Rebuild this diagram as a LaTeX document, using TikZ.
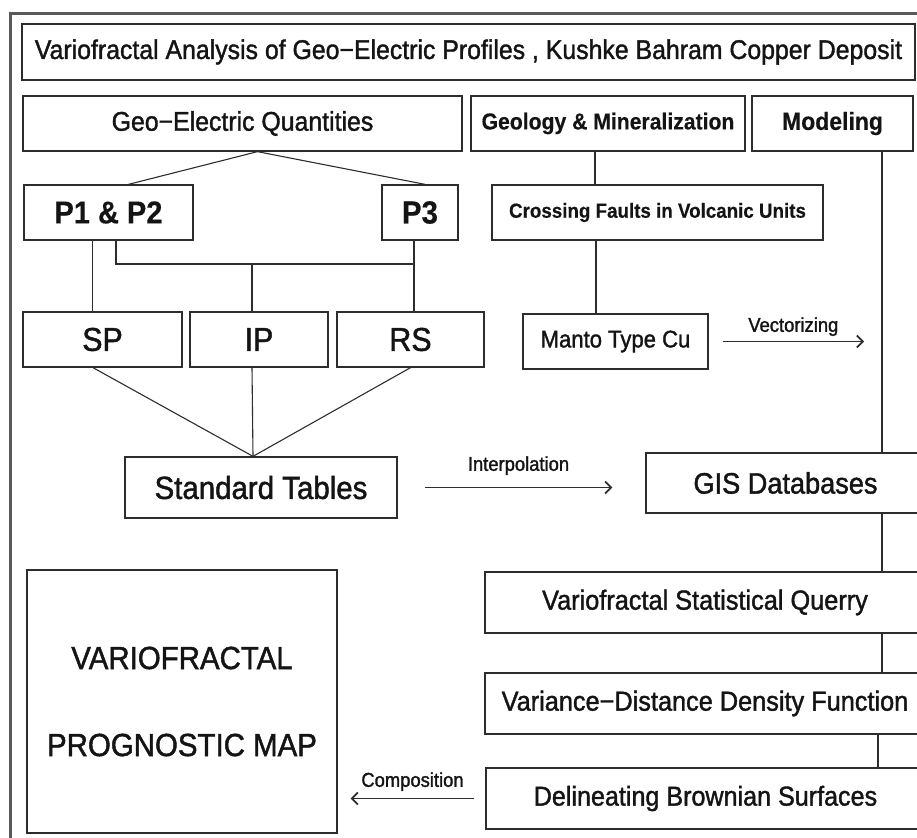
\documentclass[tikz,border=0pt]{standalone}
\usepackage{fontspec}
\setmainfont{Liberation Sans}[FakeStretch=0.92, UprightFeatures={FakeBold=1.4}, BoldFeatures={FakeBold=0.3}]
\usepackage{tikz}
\usetikzlibrary{arrows}
\usetikzlibrary{arrows.meta}
\usetikzlibrary{positioning}
\definecolor{framegray}{RGB}{90,90,90}
\definecolor{boxgray}{RGB}{45,45,45}
\definecolor{textblack}{RGB}{20,20,20}
\newcommand{\fntsz}[1]{\fontsize{#1}{#1}\selectfont}
\tikzset{frame/.style = {draw=framegray, line width=3pt}}
\tikzset{box/.style = {draw=boxgray, line width=1.3pt, rectangle, text=textblack, inner sep=0}}
\tikzset{link/.style = {draw=boxgray, line width=1.1pt}}
\tikzset{flow/.style = {link, -{Straight Barb[length=6pt, width=12pt, line width=1.7pt]}}}
\tikzset{flowlabel/.style = {text=textblack, inner sep=0, font=\fntsz{20}}}

\begin{document}
\begin{tikzpicture}[x=1pt, y=-1pt]
    \useasboundingbox (0,0) rectangle (917,837);
    \clip (0,0) rectangle (917,837);
    \draw [frame] (10,14) rectangle (940,860);

    \node [box, minimum width=893, minimum height=56, font=\fntsz{27}] (title) at (468.5,52) {Variofractal Analysis of Geo−Electric Profiles , Kushke Bahram Copper Deposit};
    \node [box, minimum width=439, minimum height=55, font=\fntsz{27}] (geq) at (242.5,123.5) {Geo−Electric Quantities};
    \node [box, minimum width=274, minimum height=55, font=\bfseries\fntsz{23}] (geol) at (608,123.5) {Geology \& Mineralization};
    \node [box, minimum width=161, minimum height=55, font=\bfseries\fntsz{25}] (model) at (832.5,123.5) {Modeling};

    \node [box, minimum width=169, minimum height=55, font=\bfseries\fntsz{31.5}] (p12) at (108.5,212.5) {P1 \& P2};
    \node [box, minimum width=76, minimum height=55, font=\bfseries\fntsz{32}] (p3) at (420,212.5) {P3};
    \node [box, minimum width=331, minimum height=55, font=\bfseries\fntsz{20.4}] (faults) at (657.5,212.5) {Crossing Faults in Volcanic Units};

    \node [box, minimum width=159, minimum height=55, font=\fntsz{33}] (sp) at (102.5,339.5) {SP};
    \node [box, minimum width=138, minimum height=55, font=\fntsz{33}] (ip) at (259,339.5) {IP};
    \node [box, minimum width=147, minimum height=55, font=\fntsz{33}] (rs) at (410.5,339.5) {RS};
    \node [box, minimum width=185, minimum height=55, font=\fntsz{24}] (manto) at (615.5,341.5) {Manto Type Cu};

    \node [box, minimum width=272, minimum height=61, font=\fntsz{32}] (tables) at (261,487.5) {Standard Tables};
    \node [box, minimum width=279, minimum height=60, font=\fntsz{29.5}] (gis) at (785.5,483) {GIS Databases};

    \node [box, minimum width=440, minimum height=61, font=\fntsz{27.5}] (query) at (705,602.5) {Variofractal Statistical Querry};
    \node [box, minimum width=440, minimum height=61, font=\fntsz{27.5}] (density) at (705,703.5) {Variance−Distance Density Function};
    \node [box, minimum width=439, minimum height=61, font=\fntsz{27.3}] (brown) at (705.5,798.5) {Delineating Brownian Surfaces};
    \node [box, minimum width=310, minimum height=263, align=center, font=\fontsize{32}{87}\selectfont] (map) at (182,701.5) {VARIOFRACTAL\\PROGNOSTIC MAP};

    \coordinate (bus) at (252,264);
    \coordinate (join) at ([xshift=-8pt]tables.north);
    \coordinate (vecend) at (864,341.5);
    \coordinate (rail) at (882,0);
    \coordinate (rail2) at (878,0);

    \draw [link] ([xshift=15pt]geq.south) -- ([xshift=20pt]p12.north);
    \draw [link] ([xshift=15pt]geq.south) -- ([xshift=5pt]p3.north);
    \draw [link] ([xshift=-16pt]p12.south) -- ([xshift=-16pt]p12.south |- sp.north);
    \draw [link] ([xshift=7.5pt]p12.south) |- ([xshift=-6pt]p3.south |- bus);
    \draw [link] ([xshift=-6pt]p3.south) -- ([xshift=-6pt]p3.south |- rs.north);
    \draw [link] (bus) -- (bus |- ip.north);

    \draw [link] ([xshift=-9.5pt]sp.south) -- (join);
    \draw [link] ([xshift=-7pt]ip.south) -- (join);
    \draw [link] (rs.south) -- (join);

    \draw [link] ([xshift=-13pt]geol.south) -- ([xshift=-13pt]geol.south |- faults.north);
    \draw [link] ([xshift=-19.5pt]manto.north |- faults.south) -- ([xshift=-19.5pt]manto.north);
    \draw [flow] ([xshift=14pt]manto.east) -- (vecend) node [flowlabel, midway, above=5pt] {Vectorizing};

    \draw [link] (rail |- model.south) -- (rail |- gis.north);
    \draw [link] (rail |- gis.south) -- (rail |- query.north);
    \draw [link] (rail |- query.south) -- (rail |- density.north);
    \draw [link] (rail2 |- density.south) -- (rail2 |- brown.north);

    \draw [flow] ([xshift=27pt]tables.east) -- ([xshift=-33pt]gis.west |- tables.east) node [flowlabel, midway, above=12pt] {Interpolation};
    \draw [flow] ([xshift=-11pt]brown.west) -- ([xshift=13pt]map.east |- brown.west) node [flowlabel, midway, above=7pt] {Composition};
\end{tikzpicture}
\end{document}
